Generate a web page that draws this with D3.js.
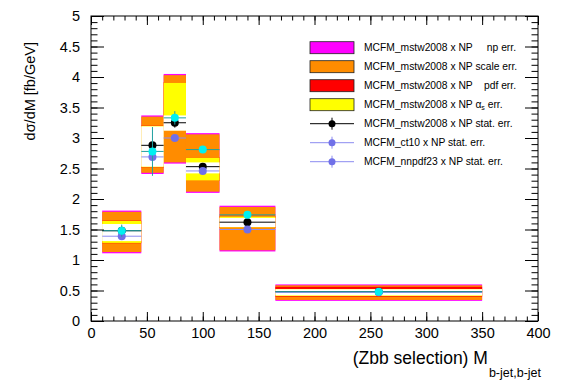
<!DOCTYPE html>
<html>
<head>
<meta charset="utf-8">
<script src="https://cdn.jsdelivr.net/npm/d3@7"></script>
<style>
body { margin: 0; background: #fff; }
text { font-family: "Liberation Sans", Arial, sans-serif; }
</style>
</head>
<body>
<div id="chart"></div>
<script>
// bin edges in M_bb [GeV]
var binLo = [10, 45, 65, 85, 115, 165];
var binHi = [45, 65, 85, 115, 165, 350];

// central values and stat errors
var mstw = [1.48, 2.88, 3.25, 2.53, 1.62, 0.48];
var mstwStat = [0.04, 0.06, 0.08, 0.06, 0.04, 0.02];
var ct10 = [1.48, 2.78, 3.33, 2.81, 1.74, 0.48];
var ct10Stat = [0.1, 0.4, 0.11, 0.05, 0.04, 0.02];
var nnpdf = [1.39, 2.69, 3.0, 2.46, 1.5, 0.47];
var nnpdfStat = [0.03, 0.04, 0.05, 0.04, 0.03, 0.02];

// uncertainty band edges (absolute)
var npLo = [1.11, 2.41, 2.58, 2.1, 1.14, 0.33];
var npHi = [1.81, 3.37, 4.05, 3.08, 1.89, 0.6];
var scaleLo = [1.13, 2.43, 2.6, 2.12, 1.16, 0.345];
var scaleHi = [1.79, 3.35, 4.03, 3.06, 1.87, 0.585];
var pdfLo = [1.275, 2.515, 3.115, 2.295, 1.525, 0.4];
var pdfHi = [1.645, 3.205, 3.915, 2.685, 1.725, 0.56];
var asLo = [1.28, 2.52, 3.12, 2.3, 1.53, 0.41];
var asHi = [1.64, 3.2, 3.91, 2.68, 1.715, 0.525];
var gapLo = [1.31, 2.53, 3.12, 2.42, 1.54, 0.42];
var gapHi = [1.59, 3.19, 3.37, 2.6, 1.69, 0.52];

var xMajor = d3.range(0, 401, 50);
var yMajor = d3.range(0, 5.01, 0.5);

var legendLabels = [
  "MCFM_mstw2008 x NP     np err.",
  "MCFM_mstw2008 x NP scale err.",
  "MCFM_mstw2008 x NP    pdf err.",
  "MCFM_mstw2008 x NP \u03b1s err.",
  "MCFM_mstw2008 x NP stat. err.",
  "MCFM_ct10 x NP stat. err.",
  "MCFM_nnpdf23 x NP stat. err."
];

var W = 567, H = 384;
var svg = d3.select("#chart").append("svg")
    .attr("width", W)
    .attr("height", H);

var x = d3.scaleLinear().domain([0, 400]).range([91, 538]);
var y = d3.scaleLinear().domain([0, 5]).range([321, 16]);

var bins = d3.range(binLo.length);

function band(lo, hi, color) {
  svg.append("g").selectAll("rect")
     .data(bins)
     .enter()
     .append("rect")
       .attr("x", function(i) { return x(binLo[i]); })
       .attr("width", function(i) { return x(binHi[i]) - x(binLo[i]); })
       .attr("y", function(i) { return y(hi[i]); })
       .attr("height", function(i) { return y(lo[i]) - y(hi[i]); })
       .attr("fill", color);
}
band(npLo, npHi, "#ff00ff");
band(scaleLo, scaleHi, "#ff8c00");
band(pdfLo, pdfHi, "#ff0000");
band(asLo, asHi, "#ffff00");
band(gapLo, gapHi, "#ffffff");

function points(vals, errs, lineColor, fill) {
  var g = svg.append("g");
  g.selectAll("line.h")
   .data(bins)
   .enter()
   .append("line")
     .attr("x1", function(i) { return x(binLo[i]); })
     .attr("x2", function(i) { return x(binHi[i]); })
     .attr("y1", function(i) { return y(vals[i]); })
     .attr("y2", function(i) { return y(vals[i]); })
     .attr("stroke", lineColor)
     .attr("stroke-width", 1);
  g.selectAll("line.v")
   .data(bins)
   .enter()
   .append("line")
     .attr("x1", function(i) { return x((binLo[i] + binHi[i]) / 2); })
     .attr("x2", function(i) { return x((binLo[i] + binHi[i]) / 2); })
     .attr("y1", function(i) { return y(vals[i] - errs[i]); })
     .attr("y2", function(i) { return y(vals[i] + errs[i]); })
     .attr("stroke", lineColor)
     .attr("stroke-width", 1);
  g.selectAll("circle")
   .data(bins)
   .enter()
   .append("circle")
     .attr("cx", function(i) { return x((binLo[i] + binHi[i]) / 2); })
     .attr("cy", function(i) { return y(vals[i]); })
     .attr("r", 4)
     .attr("fill", fill);
}
points(mstw, mstwStat, "#000000", "#000000");
points(nnpdf, nnpdfStat, "#8c8cf0", "#7070e8");
points(ct10, ct10Stat, "#20a0a0", "#00f0f0");

// axes: ROOT style ticks inside on all four sides
function minorOf(major, step, n) {
  var out = [];
  for (var v = major[0]; v <= major[major.length - 1] + 1e-9; v += step / n) {
    out.push(+v.toFixed(6));
  }
  return out;
}
var xMinor = minorOf(xMajor, 50, 5);
var yMinor = minorOf(yMajor, 0.5, 5);

function styleAxis(g) {
  g.select(".domain").remove();
  g.selectAll("line").attr("stroke", "#000");
  g.selectAll("text").attr("font-size", "14.5px").attr("fill", "#000")
   .attr("font-family", "Liberation Sans, Arial, sans-serif");
}

svg.append("g").attr("transform", "translate(0,321)")
   .call(d3.axisBottom(x).tickValues(xMajor).tickSize(-9).tickPadding(7).tickFormat(d3.format("d")))
   .call(styleAxis);
svg.append("g").attr("transform", "translate(0,321)")
   .call(d3.axisBottom(x).tickValues(xMinor).tickSize(-4.5).tickFormat(""))
   .call(styleAxis);
svg.append("g").attr("transform", "translate(0,16)")
   .call(d3.axisTop(x).tickValues(xMajor).tickSize(-9).tickFormat(""))
   .call(styleAxis);
svg.append("g").attr("transform", "translate(0,16)")
   .call(d3.axisTop(x).tickValues(xMinor).tickSize(-4.5).tickFormat(""))
   .call(styleAxis);

svg.append("g").attr("transform", "translate(91,0)")
   .call(d3.axisLeft(y).tickValues(yMajor).tickSize(-13).tickPadding(11).tickFormat(d3.format("")))
   .call(styleAxis);
svg.append("g").attr("transform", "translate(91,0)")
   .call(d3.axisLeft(y).tickValues(yMinor).tickSize(-6.5).tickFormat(""))
   .call(styleAxis);
svg.append("g").attr("transform", "translate(538,0)")
   .call(d3.axisRight(y).tickValues(yMajor).tickSize(-13).tickFormat(""))
   .call(styleAxis);
svg.append("g").attr("transform", "translate(538,0)")
   .call(d3.axisRight(y).tickValues(yMinor).tickSize(-6.5).tickFormat(""))
   .call(styleAxis);

svg.append("rect")
   .attr("x", 91).attr("y", 16)
   .attr("width", 538 - 91).attr("height", 321 - 16)
   .attr("fill", "none")
   .attr("stroke", "#000")
   .attr("stroke-width", 1);

// axis titles
var xt = svg.append("text")
   .attr("x", 541).attr("y", 364)
   .attr("text-anchor", "end")
   .attr("font-size", "17.5px");
xt.append("tspan").text("(Zbb selection) M");
xt.append("tspan").attr("dx", 1).attr("dy", 13).attr("font-size", "12.5px").text("b-jet,b-jet");

svg.append("text")
   .attr("transform", "translate(35,42) rotate(-90)")
   .attr("text-anchor", "end")
   .attr("font-size", "14.5px")
   .text("d\u03c3/dM [fb/GeV]");

// legend
var legColors = ["#ff00ff", "#ff8c00", "#ff0000", "#ffff00"];
var leg = svg.append("g");
var rowY = function(i) { return 47.7 + i * 19; };

leg.selectAll("rect")
   .data(legColors)
   .enter()
   .append("rect")
     .attr("x", 310)
     .attr("y", function(d, i) { return rowY(i) - 6; })
     .attr("width", 44)
     .attr("height", 12)
     .attr("fill", function(d) { return d; })
     .attr("stroke", "#222")
     .attr("stroke-width", 0.8);

var legMarks = [
  { color: "#000000", fill: "#000000" },
  { color: "#8c8cf0", fill: "#7070e8" },
  { color: "#8c8cf0", fill: "#7070e8" }
];
legMarks.forEach(function(m, k) {
  var cy = rowY(4 + k);
  leg.append("line").attr("x1", 310).attr("x2", 354).attr("y1", cy).attr("y2", cy)
     .attr("stroke", m.color).attr("stroke-width", 1);
  leg.append("line").attr("x1", 332).attr("x2", 332).attr("y1", cy - 6).attr("y2", cy + 6)
     .attr("stroke", m.color).attr("stroke-width", 1);
  leg.append("circle").attr("cx", 332).attr("cy", cy).attr("r", 3.5).attr("fill", m.fill);
});

leg.selectAll("text")
   .data(legendLabels)
   .enter()
   .append("text")
     .attr("x", 364)
     .attr("y", function(d, i) { return rowY(i) + 3.7; })
     .attr("font-size", "10.3px")
     .attr("xml:space", "preserve")
     .style("white-space", "pre")
     .each(function(d) {
       var t = d3.select(this);
       if (d.indexOf("\u03b1s") >= 0) {
         var parts = d.split("\u03b1s");
         t.append("tspan").text(parts[0] + "\u03b1");
         t.append("tspan").attr("font-size", "7px").attr("dy", 2).text("s");
         t.append("tspan").attr("dy", -2).text(parts[1]);
       } else {
         t.text(d);
       }
     });
</script>
</body>
</html>
